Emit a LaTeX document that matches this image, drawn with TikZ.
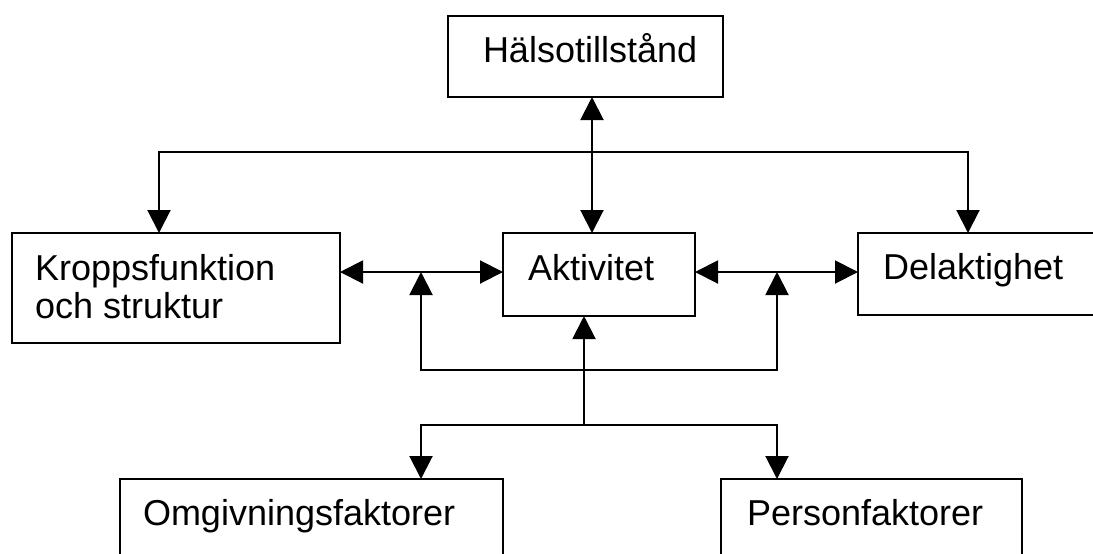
\documentclass[tikz,border=0pt]{standalone}
\usepackage{fontspec}
\setmainfont{Liberation Sans}
\usetikzlibrary{arrows.meta}

\begin{document}
\begin{tikzpicture}[x=0.5pt,y=-0.5pt,inner sep=0pt,outer sep=0pt,line width=1pt,
>={Triangle[length=11.5pt,width=11.5pt]},
icfbox/.style={draw,rectangle,anchor=north west,line width=1pt},
icftext/.style={anchor=base west,font=\fontsize{18}{19}\selectfont,align=left}]

\useasboundingbox[fill=white] (0,0) rectangle (1093,553);
\clip (0,0) rectangle (1093,553);

% boxes
\draw (448,16) node[icfbox,minimum width=137.5pt,minimum height=40.5pt] (hals) {};
\draw (12,233) node[icfbox,minimum width=164pt,minimum height=55pt] (kropp) {};
\draw (503,233) node[icfbox,minimum width=96pt,minimum height=41.5pt] (akt) {};
\draw (858,233) node[icfbox,minimum width=140pt,minimum height=41pt] (del) {};
\draw (120,479) node[icfbox,minimum width=191.5pt,minimum height=60pt] (omg) {};
\draw (721,479) node[icfbox,minimum width=150.5pt,minimum height=60pt] (pers) {};

% texts
\draw (483,62) node[icftext] (hals-t) {Hälsotillstånd};
\draw (35,254) node[icftext,anchor=north west] (kropp-t) {Kroppsfunktion\\och struktur};
\draw (528,280) node[icftext] (akt-t) {Aktivitet};
\draw (883,279) node[icftext] (del-t) {Delaktighet};
\draw (143,525) node[icftext] (omg-t) {Omgivningsfaktorer};
\draw (747,525) node[icftext] (pers-t) {Personfaktorer};

% junctions
\coordinate (topL) at (159,152);
\coordinate (topM) at (592,152);
\coordinate (topR) at (968,152);
\coordinate (midL) at (421,272);
\coordinate (midR) at (777,272);
\coordinate (loop) at (584,370);
\coordinate (fork) at (584,425);

% connectors
\draw[<->] (hals.south -| topM) -- (akt.north -| topM);
\draw[<->] (kropp.north -| topL) |- (topR) -- (del.north -| topR);
\draw[<->] (kropp.east |- midL) -- (akt.west |- midL);
\draw[<->] (akt.east |- midR) -- (del.west |- midR);
\draw[<->] (midL) |- (loop) -| (midR);
\draw[->] (fork) -- (akt.south -| fork);
\draw[<->] (omg.north -| midL) |- (fork) -| (pers.north -| midR);
\end{tikzpicture}
\end{document}
